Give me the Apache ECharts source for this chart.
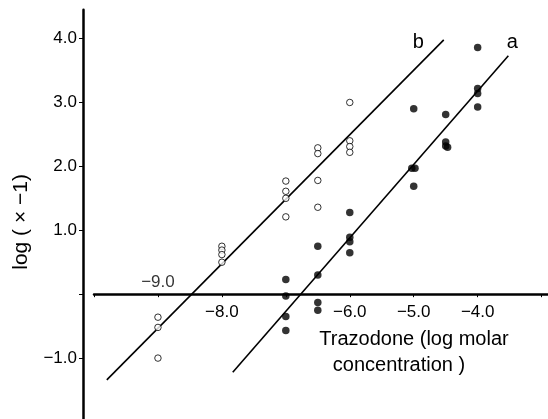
<!DOCTYPE html>
<html>
<head>
<meta charset="utf-8">
<script src="https://cdn.jsdelivr.net/npm/echarts@6/dist/echarts.min.js"></script>
<style>
  html, body { margin: 0; padding: 0; background: #fff; }
  #chart { width: 548px; height: 419px; }
</style>
</head>
<body>
<div id="chart"></div>
<script>
var chart = echarts.init(document.getElementById('chart'));

// data
// b: open circles, a: filled circles  [log molar conc, log(x-1)]
const pointsB = [
  [-9, -0.36], [-9, -0.52], [-9, -1.0],
  [-8, 0.75], [-8, 0.69], [-8, 0.62], [-8, 0.50],
  [-7, 1.77], [-7, 1.61], [-7, 1.50], [-7, 1.21],
  [-6.5, 2.29], [-6.5, 2.20], [-6.5, 1.78], [-6.5, 1.36],
  [-6, 3.00], [-6, 2.40], [-6, 2.31], [-6, 2.22]
];
const pointsA = [
  [-7, 0.23], [-7, -0.03], [-7, -0.35], [-7, -0.57],
  [-6.5, 0.75], [-6.5, 0.30], [-6.5, -0.13], [-6.5, -0.25],
  [-6, 1.28], [-6, 0.89], [-6, 0.82], [-6, 0.65],
  [-5, 2.90], [-5.03, 1.97], [-4.98, 1.97], [-5, 1.69],
  [-4.5, 2.81], [-4.5, 2.38], [-4.5, 2.32], [-4.47, 2.30],
  [-4, 3.86], [-4, 3.22], [-4, 3.14], [-4, 2.93]
];
// fitted lines (end points)
const lineB = [[-9.80, -1.34], [-4.53, 3.98]];
const lineA = [[-7.83, -1.22], [-3.52, 3.73]];

const yLabels = [4, 3, 2, 1, -1];
const xLabelsBelow = [-8, -6, -5, -4];
const xLabelAbove = [[-9, 0]];

const font = 'Liberation Sans, Arial, Helvetica, sans-serif';

// grid geometry: y runs -2..4.45 over top 9.8 .. bottom 422 px
const yMin = -2, yMax = 4.45, gridTop = 9.8, gridBottomPx = 422;
const zeroOffset = -(gridBottomPx - gridTop) * (0 - yMin) / (yMax - yMin);

function fmt(v) {
  return (v < 0 ? '\u2212' : '') + Math.abs(v).toFixed(1);
}
function pick(list) {
  return function (v) {
    return list.indexOf(Math.round(v * 100) / 100) >= 0 ? fmt(v) : '';
  };
}

function lineData(pts, label) {
  return pts.map(function (p, i) {
    if (i < pts.length - 1) return p;
    return { value: p, label: label };
  });
}

const option = {
  backgroundColor: '#fff',
  animation: false,
  grid: { left: 94, right: 0, top: gridTop, bottom: 419 - gridBottomPx, containLabel: false, outerBoundsMode: 'none' },
  xAxis: {
    type: 'value',
    min: -10,
    max: -2.9,
    interval: 1,
    position: 'bottom',
    offset: zeroOffset,
    splitLine: { show: false },
    axisLine: { onZero: false, lineStyle: { color: '#000', width: 2.5 } },
    axisTick: { show: true, length: 3, lineStyle: { color: '#000', width: 1 } },
    axisLabel: {
      formatter: pick(xLabelsBelow),
      color: '#000', fontSize: 17, fontFamily: font, margin: 10
    },
    name: '{l1|Trazodone (log molar}\n{l2|concentration )}',
    nameLocation: 'middle',
    nameGap: 32,
    nameTextStyle: {
      color: '#000', fontFamily: font, fontSize: 20, lineHeight: 26,
      padding: [0, 0, 0, 186],
      rich: {
        l1: { fontSize: 20, fontFamily: font, color: '#000', lineHeight: 26 },
        l2: { fontSize: 20, fontFamily: font, color: '#000', lineHeight: 26, padding: [0, 30, 0, 0] }
      }
    }
  },
  yAxis: {
    type: 'value',
    min: yMin,
    max: yMax,
    interval: 1,
    offset: 11,
    splitLine: { show: false },
    axisLine: { show: true, lineStyle: { color: '#000', width: 2.5 } },
    axisTick: { show: true, length: 4, lineStyle: { color: '#000', width: 1 } },
    axisLabel: {
      formatter: pick(yLabels),
      color: '#000', fontSize: 17, fontFamily: font, margin: 6,
      showMaxLabel: false
    },
    name: 'log ( \u00d7 \u22121)',
    nameLocation: 'middle',
    nameGap: 51,
    nameTextStyle: { color: '#000', fontSize: 21, fontFamily: font, padding: [0, 12, 0, 0] }
  },
  series: [{
    name: 'b fit',
    type: 'line',
    data: lineData(lineB, {
      show: true, formatter: 'b', position: 'left', distance: 20, offset: [0, 3],
      color: '#000', fontSize: 20, fontFamily: font
    }),
    symbol: 'circle',
    symbolSize: 0,
    lineStyle: { color: '#000', width: 1.6 },
    itemStyle: { color: '#000' },
    z: 3
  }, {
    name: 'a fit',
    type: 'line',
    data: lineData(lineA, {
      show: true, formatter: 'a', position: 'top', distance: 3, offset: [4, 0],
      color: '#000', fontSize: 20, fontFamily: font
    }),
    symbol: 'circle',
    symbolSize: 0,
    lineStyle: { color: '#000', width: 1.6 },
    itemStyle: { color: '#000' },
    z: 3
  }, {
    name: 'b',
    type: 'scatter',
    data: pointsB,
    symbol: 'circle',
    symbolSize: 6.5,
    itemStyle: { color: '#fff', borderColor: '#000', borderWidth: 1 },
    z: 4
  }, {
    name: 'a',
    type: 'scatter',
    data: pointsA,
    symbol: 'circle',
    symbolSize: 7.5,
    itemStyle: { color: '#000' },
    z: 4
  }, {
    // tick label −9.0 sits above the axis line in the original
    name: 'tick -9',
    type: 'scatter',
    data: xLabelAbove,
    symbolSize: 0,
    silent: true,
    label: {
      show: true, position: 'top', distance: 3,
      formatter: function (p) { return fmt(p.value[0]); },
      color: '#000', fontSize: 17, fontFamily: font
    }
  }]
};

chart.setOption(option);
</script>
</body>
</html>
